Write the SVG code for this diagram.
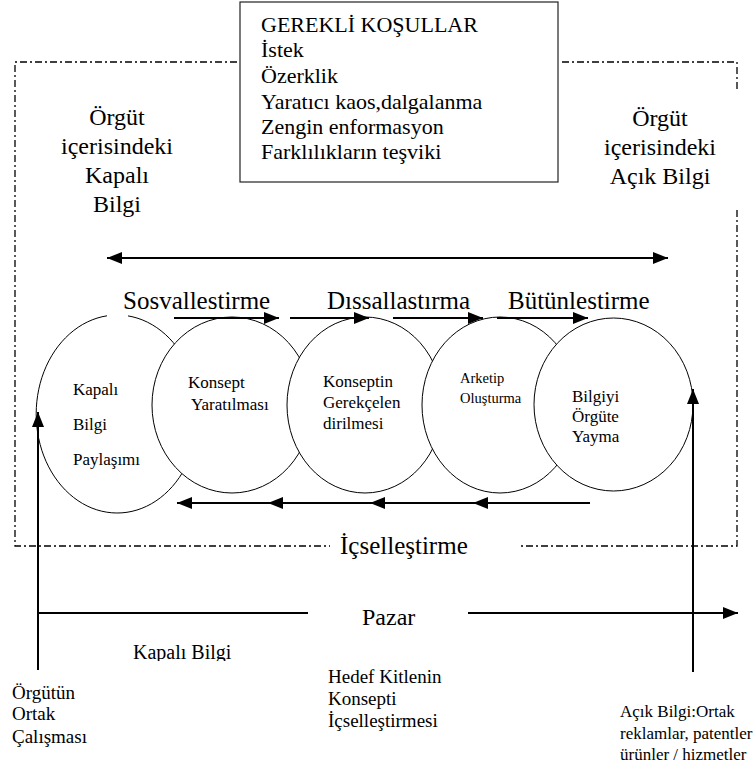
<svg xmlns="http://www.w3.org/2000/svg" width="756" height="765" viewBox="0 0 756 765" font-family="'Liberation Serif', 'Times New Roman', serif">
<style>
text{font-family:'Liberation Serif','Times New Roman',serif;fill:#000}
.big{font-size:24px}
.phase{font-size:25px}
.box{font-size:22px}
.in{font-size:17px}
.sm{font-size:14.5px}
.lab{font-size:19px}
.lab2{font-size:17px}
.border{fill:none;stroke:#000;stroke-width:1.3;stroke-dasharray:7 3 2 3}
.ell{fill:#fff;stroke:#000;stroke-width:1}
.arr{fill:none;stroke:#000;stroke-width:2}
</style>
<defs>
<marker id="ah" markerUnits="userSpaceOnUse" markerWidth="15" markerHeight="12" refX="15" refY="6" orient="auto">
<path d="M0,0 L15,6 L0,12 z" fill="#000"/>
</marker>
<marker id="ahs" markerUnits="userSpaceOnUse" markerWidth="15" markerHeight="12" refX="15" refY="6" orient="auto-start-reverse">
<path d="M0,0 L15,6 L0,12 z" fill="#000"/>
</marker>
<clipPath id="clipKB"><rect x="100" y="630" width="160" height="31"/></clipPath>
</defs>
<rect width="756" height="765" fill="#fff"/>

<g id="frame">
<path class="border" d="M237,62 H15 V546 H330"/>
<path class="border" d="M562,62 H737 V90"/>
<path class="border" d="M737,210 V546 H520"/>
</g>

<g id="conditions">
<rect x="240" y="2" width="318" height="180" fill="#fff" stroke="#222" stroke-width="1.2"/>
<text class="box" x="261" y="32">GEREKLİ KOŞULLAR</text>
<text class="box" x="261" y="57">İstek</text>
<text class="box" x="261" y="83">Özerklik</text>
<text class="box" x="261" y="109">Yaratıcı kaos,dalgalanma</text>
<text class="box" x="261" y="134">Zengin enformasyon</text>
<text class="box" x="261" y="159">Farklılıkların teşviki</text>
</g>

<g id="tacit-label" text-anchor="middle">
<text class="big" x="117" y="125">Örgüt</text>
<text class="big" x="117" y="154">içerisindeki</text>
<text class="big" x="117" y="183">Kapalı</text>
<text class="big" x="117" y="212">Bilgi</text>
</g>
<g id="explicit-label" text-anchor="middle">
<text class="big" x="660" y="126">Örgüt</text>
<text class="big" x="660" y="155">içerisindeki</text>
<text class="big" x="660" y="184">Açık Bilgi</text>
</g>

<g id="phases">
<text class="phase" x="123" y="309">Sosvallestirme</text>
<text class="phase" x="327" y="309">Dıssallastırma</text>
<text class="phase" x="508" y="309">Bütünlestirme</text>
<text class="phase" x="340" y="554">İçselleştirme</text>
</g>

<g id="node1">
<path class="ell" fill="none" d="M128,315.9 A81,99 0 1 1 107,315.8"/>
<text class="in" x="73" y="395">Kapalı</text>
<text class="in" x="73" y="430">Bilgi</text>
<text class="in" x="73" y="465">Paylaşımı</text>
</g>
<g id="node2">
<ellipse class="ell" cx="232" cy="405" rx="80" ry="88"/>
<text class="in" x="188" y="388">Konsept</text>
<text class="in" x="191" y="410">Yaratılması</text>
</g>
<g id="node3">
<ellipse class="ell" cx="365" cy="405" rx="78" ry="88"/>
<text class="in" x="323" y="387">Konseptin</text>
<text class="in" x="323" y="408">Gerekçelen</text>
<text class="in" x="323" y="429">dirilmesi</text>
</g>
<g id="node4">
<ellipse class="ell" cx="500" cy="405" rx="78" ry="88"/>
<text class="sm" x="460" y="383">Arketip</text>
<text class="sm" x="460" y="403">Oluşturma</text>
</g>
<g id="node5">
<ellipse class="ell" cx="613.5" cy="404.5" rx="79.5" ry="86.5"/>
<text class="in" x="572" y="402">Bilgiyi</text>
<text class="in" x="572" y="422">Örgüte</text>
<text class="in" x="572" y="442">Yayma</text>
</g>

<g id="connectors">
<line class="arr" x1="107" y1="258" x2="668" y2="258" marker-start="url(#ahs)" marker-end="url(#ah)"/>
<line class="arr" x1="174" y1="318" x2="279" y2="318" marker-end="url(#ah)"/>
<line class="arr" x1="290" y1="318" x2="369" y2="318" marker-end="url(#ah)"/>
<line class="arr" x1="393" y1="318" x2="483" y2="318" marker-end="url(#ah)"/>
<line class="arr" x1="497" y1="318" x2="588" y2="318" marker-end="url(#ah)"/>
<line class="arr" x1="590" y1="503" x2="473" y2="503" marker-end="url(#ah)"/>
<line class="arr" x1="473" y1="503" x2="370" y2="503" marker-end="url(#ah)"/>
<line class="arr" x1="370" y1="503" x2="268" y2="503" marker-end="url(#ah)"/>
<line class="arr" x1="268" y1="503" x2="177" y2="503" marker-end="url(#ah)"/>
<line class="arr" x1="38" y1="670" x2="38" y2="412" marker-end="url(#ah)"/>
<line class="arr" x1="693" y1="672" x2="693" y2="389" marker-end="url(#ah)"/>
<line class="arr" x1="38" y1="613" x2="308" y2="613"/>
<line class="arr" x1="468" y1="613" x2="738" y2="613" marker-end="url(#ah)"/>
</g>

<g id="market">
<text style="font-size:24px" x="362" y="625">Pazar</text>
<text style="font-size:20px" x="133" y="659" clip-path="url(#clipKB)">Kapalı Bilgi</text>
</g>
<g id="bottom-labels">
<text class="lab" x="12" y="699">Örgütün</text>
<text class="lab" x="12" y="720">Ortak</text>
<text class="lab" x="12" y="743">Çalışması</text>
<text class="lab" x="328" y="683">Hedef Kitlenin</text>
<text class="lab" x="328" y="705">Konsepti</text>
<text class="lab" x="328" y="727">İçselleştirmesi</text>
<text class="lab2" x="620" y="717">Açık Bilgi:Ortak</text>
<text class="lab2" x="620" y="739">reklamlar, patentler</text>
<text class="lab2" x="620" y="760">ürünler / hizmetler</text>
</g>
</svg>
